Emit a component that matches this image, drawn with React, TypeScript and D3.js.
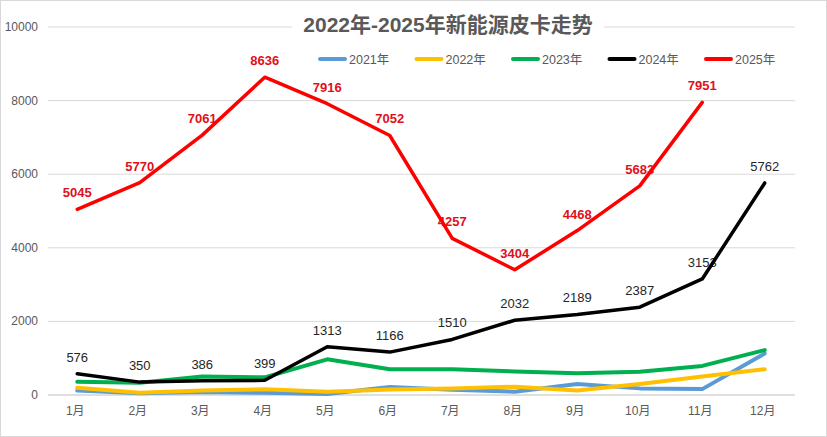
import * as d3 from "d3"

const months = ["1月", "2月", "3月", "4月", "5月", "6月", "7月", "8月", "9月", "10月", "11月", "12月"]
const yTicks = [0, 2000, 4000, 6000, 8000, 10000]

const v2021 = [120, 50, 80, 60, 30, 220, 140, 90, 300, 180, 160, 1130]
const v2022 = [200, 60, 120, 155, 90, 150, 180, 225, 120, 300, 500, 700]
const v2023 = [360, 330, 500, 480, 970, 700, 700, 640, 590, 630, 790, 1220]
const v2024 = [576, 350, 386, 399, 1313, 1166, 1510, 2032, 2189, 2387, 3153, 5762]
const v2025 = [5045, 5770, 7061, 8636, 7916, 7052, 4257, 3404, 4468, 5683, 7951]

const series = [
  { name: "2021年", values: v2021, color: "#5b9bd5", width: 4, labels: false },
  { name: "2022年", values: v2022, color: "#ffc000", width: 4, labels: false },
  { name: "2023年", values: v2023, color: "#00b050", width: 4, labels: false },
  { name: "2024年", values: v2024, color: "#000000", width: 3.5, labels: true },
  { name: "2025年", values: v2025, color: "#ff0000", width: 3.5, labels: true },
]

const W = 827
const H = 437
const font = "'Liberation Sans', Arial, 'Noto Sans CJK SC', sans-serif"

export default function App() {
  document.body.style.margin = "0"

  const x = d3.scalePoint<string>().domain(months).range([46, 796]).padding(0.5)
  const xLeft = 48
  const xRight = 795
  const y = d3.scaleLinear().domain([0, 10000]).range([395, 27])

  const line = d3
    .line<number>()
    .x((_, i) => x(months[i])!)
    .y((d) => y(d))

  return (
    <svg width={W} height={H} style={{ display: "block", fontFamily: font }}>
      <rect x={0.5} y={0.5} width={W - 1} height={H - 1} fill="#fff" stroke="#d9d9d9" />

      {/* grid */}
      {yTicks.map((t) => (
        <g key={t}>
          <line x1={xLeft} x2={xRight} y1={y(t)} y2={y(t)} stroke={t === 0 ? "#bfbfbf" : "#d9d9d9"} strokeWidth={1} />
          <text x={38} y={y(t) + 4} textAnchor="end" fontSize={12} fill="#595959">
            {t}
          </text>
        </g>
      ))}

      {months.map((m) => (
        <text key={m} x={x(m)! - 2} y={415} textAnchor="middle" fontSize={12} fill="#595959">
          {m}
        </text>
      ))}

      {/* data labels sit under the lines */}
      {series
        .filter((s) => s.labels)
        .map((s) =>
          s.values.map((v, i) => (
            <text
              key={s.name + i}
              x={x(months[i])!}
              y={y(v) - 12}
              textAnchor="middle"
              fontSize={13}
              fontWeight={s.color === "#ff0000" ? "bold" : "normal"}
              fill={s.color === "#ff0000" ? "#e0101a" : "#262626"}
            >
              {v}
            </text>
          )),
        )}

      {series.map((s) => (
        <path
          key={s.name}
          d={line(s.values)!}
          fill="none"
          stroke={s.color}
          strokeWidth={s.width}
          strokeLinejoin="round"
          strokeLinecap="round"
        />
      ))}

      {/* title */}
      <rect x={292} y={8} width={312} height={30} fill="#fff" />
      <text x={448} y={32} textAnchor="middle" fontSize={21} fontWeight="bold" fill="#595959">
        2022年-2025年新能源皮卡走势
      </text>

      {/* legend */}
      {series.map((s, i) => {
        const lx = 320 + i * 96.5
        return (
          <g key={s.name}>
            <line x1={lx} x2={lx + 25} y1={59} y2={59} stroke={s.color} strokeWidth={4} strokeLinecap="round" />
            <text x={lx + 29} y={63.5} fontSize={12.5} fill="#595959">
              {s.name}
            </text>
          </g>
        )
      })}
    </svg>
  )
}
